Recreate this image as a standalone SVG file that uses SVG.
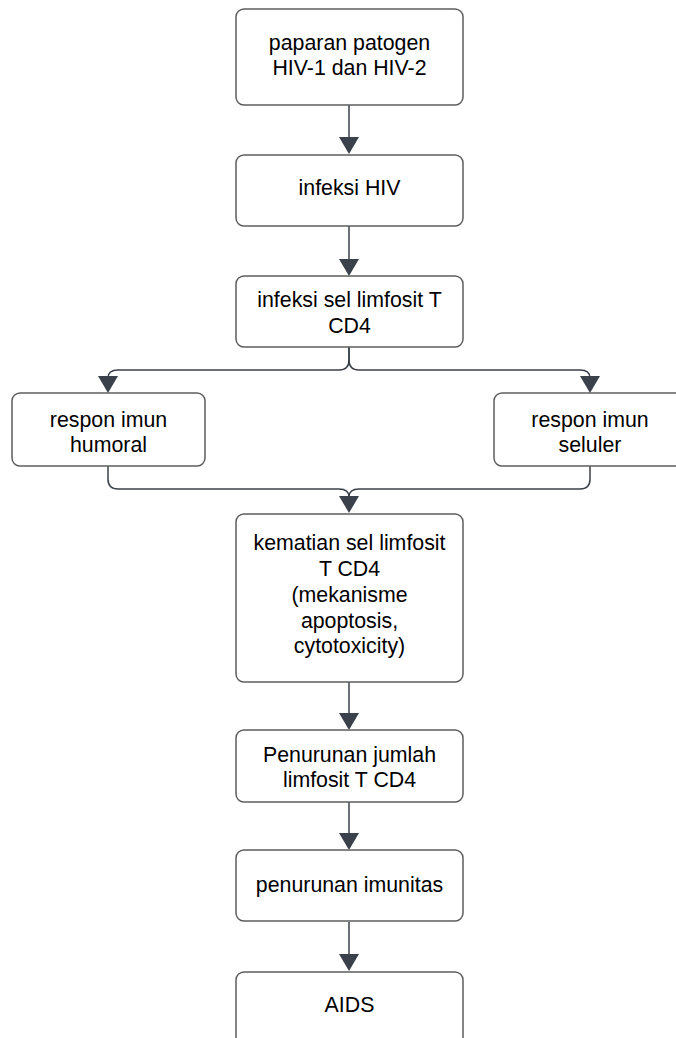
<svg xmlns="http://www.w3.org/2000/svg" width="676" height="1038" viewBox="0 0 676 1038">
<style>
.box{fill:#ffffff;stroke:#5e5e5e;stroke-width:1.5}
.t{font-family:"Liberation Sans",Arial,sans-serif;font-size:21.33px;fill:#000;text-anchor:middle}
.c{fill:none;stroke:#3a414a;stroke-width:1.5}
.ah{fill:#3a414a}
</style>
<rect width="676" height="1038" fill="#ffffff"/>
<g id="connectors">
<path class="c" d="M349,105 V137"/><path class="ah" d="M339,137 H359 L349,154 Z"/>
<path class="c" d="M349,226 V259"/><path class="ah" d="M339,259 H359 L349,276 Z"/>
<path class="c" d="M349,347 V360 Q349,370 339,370 H118 Q108,370 108,378"/><path class="ah" d="M98,376 H118 L108,393 Z"/>
<path class="c" d="M349,347 V360 Q349,370 359,370 H580 Q590,370 590,378"/><path class="ah" d="M580,376 H600 L590,393 Z"/>
<path class="c" d="M108,466 V479 Q108,489 118,489 H339 Q349,489 349,497"/>
<path class="c" d="M590,466 V479 Q590,489 580,489 H359 Q349,489 349,497"/>
<path class="ah" d="M339,496 H359 L349,513 Z"/>
<path class="c" d="M349,682 V713"/><path class="ah" d="M339,713 H359 L349,730 Z"/>
<path class="c" d="M349,802 V833"/><path class="ah" d="M339,833 H359 L349,850 Z"/>
<path class="c" d="M349,922 V954"/><path class="ah" d="M339,954 H359 L349,971 Z"/>
</g>
<g id="n1"><rect class="box" x="236" y="9" width="227" height="96" rx="8"/><text class="t" x="349.5" y="50">paparan patogen</text><text class="t" x="349.5" y="75">HIV-1 dan HIV-2</text></g>
<g id="n2"><rect class="box" x="236" y="155" width="227" height="71" rx="8"/><text class="t" x="349.5" y="195">infeksi HIV</text></g>
<g id="n3"><rect class="box" x="236" y="276" width="227" height="71" rx="8"/><text class="t" x="349.5" y="307">infeksi sel limfosit T</text><text class="t" x="349.5" y="333">CD4</text></g>
<g id="n4"><rect class="box" x="12" y="393" width="193" height="73" rx="8"/><text class="t" x="108.5" y="427">respon imun</text><text class="t" x="108.5" y="452">humoral</text></g>
<g id="n5"><rect class="box" x="494" y="393" width="193" height="73" rx="8"/><text class="t" x="590" y="427">respon imun</text><text class="t" x="590" y="452">seluler</text></g>
<g id="n6"><rect class="box" x="236" y="514" width="227" height="168" rx="8"/><text class="t" x="349.5" y="550">kematian sel limfosit</text><text class="t" x="349.5" y="576">T CD4</text><text class="t" x="349.5" y="602">(mekanisme</text><text class="t" x="349.5" y="627.5">apoptosis,</text><text class="t" x="349.5" y="653">cytotoxicity)</text></g>
<g id="n7"><rect class="box" x="236" y="730" width="227" height="72" rx="8"/><text class="t" x="349.5" y="761.5">Penurunan jumlah</text><text class="t" x="349.5" y="786.5">limfosit T CD4</text></g>
<g id="n8"><rect class="box" x="236" y="850" width="227" height="71" rx="8"/><text class="t" x="349.5" y="892">penurunan imunitas</text></g>
<g id="n9"><rect class="box" x="236" y="972" width="227" height="80" rx="8"/><text class="t" x="349.5" y="1012">AIDS</text></g>
</svg>
